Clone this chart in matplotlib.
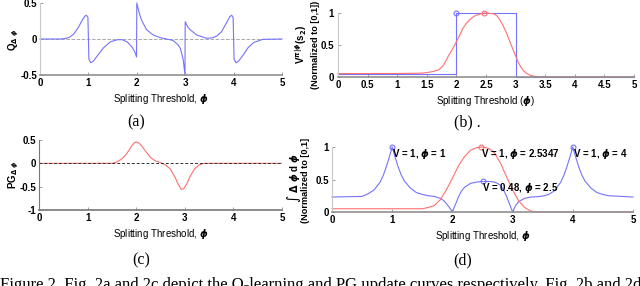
import matplotlib
matplotlib.use("Agg")
import matplotlib.pyplot as plt

# (a) Q update curve
qx = [0, 0.4, 0.5, 0.6, 0.7, 0.8, 0.88, 0.93, 0.96, 0.99, 1.01, 1.05, 1.1, 1.2, 1.3, 1.45, 1.6, 1.7,
      1.8, 1.9, 1.96, 1.995, 2.0, 2.05, 2.1, 2.2, 2.34, 2.5, 2.65, 2.75, 2.85, 2.9, 2.96, 2.995,
      3.0, 3.05, 3.1, 3.24, 3.44, 3.55, 3.65, 3.75, 3.85, 3.92, 3.96, 3.99, 4.01, 4.05, 4.1, 4.2,
      4.3, 4.41, 4.6, 5]
qy = [0, 0, 0.005, 0.02, 0.07, 0.17, 0.27, 0.32, 0.33, 0.3, -0.28, -0.33, -0.31, -0.22, -0.13, -0.04, -0.01, -0.01,
      -0.04, -0.11, -0.18, -0.25, 0.5, 0.36, 0.26, 0.13, 0.055, 0.015, -0.005, -0.02, -0.08, -0.13, -0.29, -0.5,
      0.24, 0.17, 0.13, 0.055, 0.01, 0.015, 0.04, 0.1, 0.22, 0.31, 0.33, 0.3, -0.28, -0.33, -0.31, -0.22,
      -0.12, -0.05, -0.005, 0]

# (b) value curves
vbx = [0, 2, 2, 3, 3, 5]
vby = [0.05, 0.05, 1, 1, 0, 0]
vrx = [0, 1.0, 1.4, 1.5, 1.6, 1.7, 1.78, 1.86, 1.93, 2.0, 2.06, 2.11, 2.17, 2.23, 2.3, 2.38, 2.47,
       2.55, 2.62, 2.68, 2.73, 2.79, 2.85, 2.9, 2.96, 3.0, 3.04, 3.08, 3.13, 3.18, 3.24, 3.32, 3.41, 3.6, 5]
vry = [0.053, 0.055, 0.06, 0.068, 0.085, 0.11, 0.18, 0.32, 0.43, 0.55, 0.66, 0.76, 0.84, 0.9, 0.95, 0.98, 1.0,
       0.995, 0.99, 0.96, 0.9, 0.8, 0.68, 0.56, 0.42, 0.33, 0.24, 0.17, 0.1, 0.06, 0.03, 0.012, 0.005, 0, 0]
vb_peak = (2, 1)
vr_peak = (2.47, 1)

# (c) PG update curve
pgx = [0, 1.5, 1.6, 1.7, 1.8, 1.9, 1.95, 2.0, 2.05, 2.1, 2.2, 2.3, 2.4, 2.5, 2.6, 2.7, 2.8, 2.87,
       2.93, 2.98, 3.05, 3.1, 3.2, 3.3, 3.4, 5]
pgy = [0, 0, 0.03, 0.09, 0.2, 0.36, 0.43, 0.46, 0.44, 0.39, 0.25, 0.12, 0.05, 0.015, -0.03, -0.12, -0.3, -0.46,
       -0.56, -0.54, -0.42, -0.3, -0.12, -0.03, 0, 0]

# (d) integrated curves
ibx = [0, 0.5, 0.6, 0.7, 0.8, 0.85, 0.9, 0.95, 1.0, 1.05, 1.1, 1.15, 1.2, 1.3, 1.4, 1.5, 1.6, 1.7, 1.8,
       1.85, 1.9, 1.95, 2.0, 2.03, 2.07, 2.1, 2.15, 2.2, 2.3, 2.4, 2.5, 2.6, 2.7, 2.75, 2.8, 2.85, 2.9,
       2.95, 3.0, 3.05, 3.1, 3.2, 3.3, 3.4, 3.5, 3.6, 3.7, 3.8, 3.85, 3.9, 3.95, 4.0, 4.05, 4.1, 4.15,
       4.2, 4.3, 4.4, 4.5, 4.6, 5]
iby = [0.23, 0.24, 0.28, 0.34, 0.46, 0.56, 0.69, 0.84, 1.0, 0.84, 0.69, 0.57, 0.48, 0.37, 0.3, 0.27, 0.25, 0.24, 0.21,
       0.18, 0.13, 0.07, 0.0, 0.07, 0.16, 0.23, 0.32, 0.38, 0.44, 0.46, 0.47, 0.47, 0.46, 0.44, 0.41, 0.34, 0.24,
       0.12, 0.0, 0.1, 0.16, 0.21, 0.23, 0.235, 0.245, 0.27, 0.33, 0.46, 0.56, 0.69, 0.84, 1.0, 0.84, 0.69, 0.57,
       0.48, 0.37, 0.3, 0.27, 0.25, 0.23]
irx = [0, 1.5, 1.6, 1.7, 1.8, 1.9, 2.0, 2.1, 2.2, 2.3, 2.4, 2.5, 2.6, 2.7, 2.8, 2.9, 3.0, 3.1, 3.2, 3.3, 3.4, 5]
iry = [0.05, 0.05, 0.07, 0.1, 0.19, 0.34, 0.52, 0.71, 0.85, 0.95, 0.99, 1.0, 0.98, 0.91, 0.75, 0.54, 0.34, 0.17,
       0.07, 0.015, 0, 0]
tips_x = [1.0, 2.47, 4.0, 2.5]
tips_y = [1.0, 1.0, 1.0, 0.47]
tips_c = ["blue", "red", "blue", "blue"]
tips_txt = ["V = 1, $\\phi$ = 1", "V = 1, $\\phi$ = 2.5347", "V = 1, $\\phi$ = 4", "V = 0.48, $\\phi$ = 2.5"]

blue = "#7373ff"
red = "#ff7070"
plt.rcParams["font.family"] = ["Liberation Sans", "DejaVu Sans"]
plt.rcParams["font.weight"] = "bold"
plt.rcParams["font.size"] = 7

fig = plt.figure(figsize=(6.4, 2.86), dpi=100)


def style(ax, ylim, yticks, xticks):
    ax.set_xlim(0, 5)
    ax.set_ylim(*ylim)
    ax.set_xticks(xticks)
    ax.set_xticklabels([("%g" % t) for t in xticks])
    ax.set_yticks(yticks)
    ax.set_yticklabels([("%g" % t) for t in yticks])
    ax.spines["top"].set_visible(False)
    ax.spines["right"].set_visible(False)
    ax.spines["left"].set_color("#c8c8c8")
    ax.spines["bottom"].set_color("#909090")
    ax.spines["bottom"].set_linewidth(1.2)
    ax.tick_params(direction="in", length=2, width=0.6, color="#909090", pad=2)


def px(l, t, r, b):
    return fig.add_axes([l / 640, 1 - b / 286, (r - l) / 640, (b - t) / 286])


# (a)
ax = px(40, 3, 282, 75)
ax.axhline(0, color="#aaaaaa", ls="--", lw=0.7)
ax.plot(qx, qy, color=blue, lw=0.8, clip_on=False)
style(ax, (-0.5, 0.5), [-0.5, 0, 0.5], range(6))
ax.set_xlabel("Splitting Threshold, $\\phi$", labelpad=3)
fig.text(14 / 640, 1 - 40 / 286, "Q$_{\\Delta\\ \\phi}$", rotation=90, ha="center", va="center")

# (b)
ax = px(338, 13, 634, 77)
ax.plot(vbx, vby, color=blue, lw=0.8, clip_on=False)
ax.plot(vrx, vry, color=red, lw=0.8, clip_on=False)
ax.plot(*vb_peak, "o", mfc="none", mec=blue, ms=3.5, mew=0.8, clip_on=False)
ax.plot(*vr_peak, "o", mfc="none", mec=red, ms=3.5, mew=0.8, clip_on=False)
style(ax, (0, 1), [0, 0.5, 1], [i * 0.5 for i in range(11)])
ax.tick_params(axis="y", pad=3)
ax.set_xlabel("Splitting Threshold ($\\phi$)", labelpad=3)
fig.text(301 / 640, 1 - 45 / 286, "V$^{\\pi|\\phi}$(s$_2$)", rotation=90, ha="center", va="center")
fig.text(315 / 640, 1 - 45 / 286, "(Normalized to [0,1])", rotation=90, ha="center", va="center",
         fontsize=6.6)

# (c)
ax = px(39, 140, 282, 210)
ax.plot(pgx, pgy, color=red, lw=0.8)
ax.axhline(0, color="#333333", ls="--", lw=0.7, dashes=(3, 2))
style(ax, (-1, 0.5), [-1, -0.5, 0, 0.5], range(6))
ax.spines["left"].set_color("#777777")
ax.spines["bottom"].set_color("#777777")
ax.set_xlabel("Splitting Threshold, $\\phi$", labelpad=3)
fig.text(14 / 640, 1 - 175 / 286, "PG$_{\\Delta\\ \\phi}$", rotation=90, ha="center", va="center")

# (d)
ax = px(332, 147, 633, 212)
ax.plot(ibx, iby, color=blue, lw=0.8, clip_on=False)
ax.plot(irx, iry, color=red, lw=0.8, clip_on=False)
for x, y, c, t in zip(tips_x, tips_y, tips_c, tips_txt):
    ax.plot(x, y, "o", mfc="none", mec=blue if c == "blue" else red, ms=3.5, mew=0.8, clip_on=False)
    ax.text(x, y - 0.1, t, ha="left", va="center", fontsize=7, fontweight="bold")
style(ax, (0, 1), [0, 0.5, 1], range(6))
ax.set_xlabel("Splitting Threshold, $\\phi$", labelpad=3)
fig.text(294 / 640, 1 - 178 / 286, "$\\int\\ \\Delta\\ \\phi$ d $\\phi$", rotation=90, ha="center", va="center")
fig.text(306 / 640, 1 - 180 / 286, "(Normalized to [0,1]", rotation=90, ha="center", va="center",
         fontsize=6.6)

# captions
cap = dict(family="Liberation Serif", fontweight="normal", fontsize=11.5, ha="center", va="center")
fig.text(136 / 640, 1 - 122 / 286, "(a)", **cap)
fig.text(467 / 640, 1 - 122 / 286, "(b) .", **cap)
fig.text(141 / 640, 1 - 260 / 286, "(c)", **cap)
fig.text(463 / 640, 1 - 260 / 286, "(d)", **cap)
fig.text(0, 1 - 285 / 286, "Figure 2. Fig. 2a and 2c depict the Q-learning and PG update curves respectively. Fig. 2b and 2d",
         family="Liberation Serif", fontweight="normal", fontsize=12, ha="left", va="center")

fig.savefig("out.png", dpi=100)
